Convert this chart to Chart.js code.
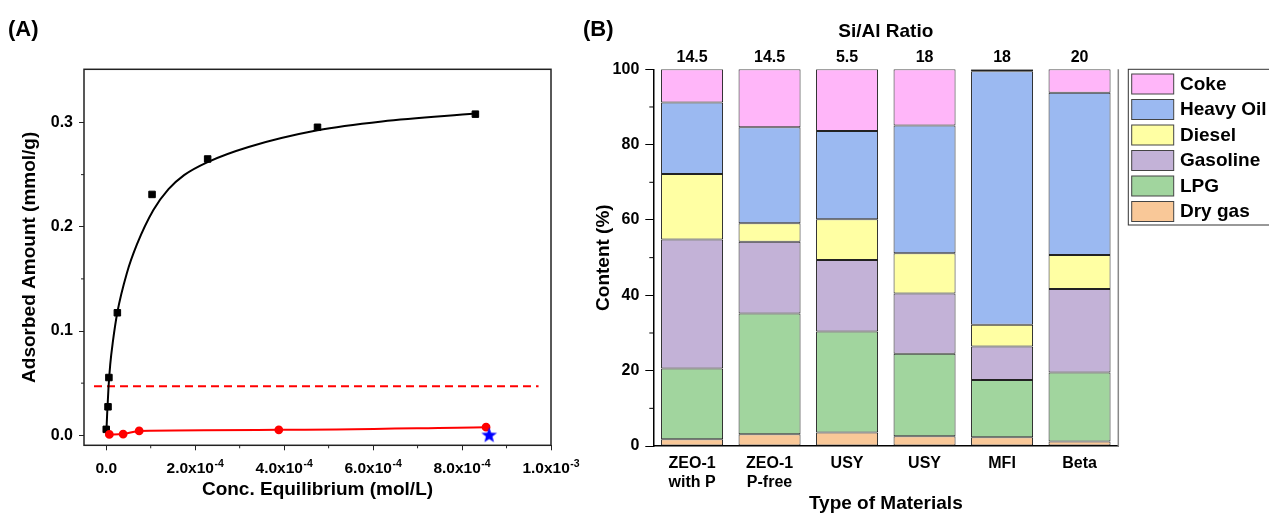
<!DOCTYPE html>
<html>
<head>
<meta charset="utf-8">
<script src="https://cdn.jsdelivr.net/npm/chart.js@4.4.1/dist/chart.umd.min.js"></script>
<style>
  html, body { margin: 0; padding: 0; width: 1269px; height: 513px; overflow: hidden; background: #fff; }
  .panel { position: absolute; top: 0; }
  #wrapA { left: 0; width: 600px; height: 513px; }
  #wrapB { left: 560px; width: 760px; height: 513px; }
  .tag { position: absolute; font: bold 22px "Liberation Sans", Arial, sans-serif; line-height: 1; color: #000; }
</style>
</head>
<body>
<div class="panel" id="wrapA"><canvas id="chartA" width="600" height="513"></canvas></div>
<div class="panel" id="wrapB"><canvas id="chartB" width="760" height="513"></canvas></div>
<div class="tag" style="left:8px; top:18px">(A)</div>
<div class="tag" style="left:583px; top:18px">(B)</div>
<script>
// ---- panel A: adsorption isotherm ----
const isothermX = [0, 4e-6, 6e-6, 2.5e-5, 1.03e-4, 2.28e-4, 4.75e-4, 8.3e-4];
const isothermY = [0.0057, 0.0273, 0.0554, 0.1175, 0.231, 0.265, 0.2954, 0.308];
// fitted curve
const fitX = [0, 2e-6, 5e-6, 9e-6, 1.5e-5, 2.5e-5, 4.6e-5, 6.9e-5, 1.06e-4, 1.4e-4, 1.75e-4, 2.28e-4, 3.2e-4, 4.75e-4, 6.2e-4, 8.3e-4];
const fitY = [0, 0.02, 0.045, 0.068, 0.09, 0.118, 0.155, 0.183, 0.216, 0.236, 0.2495, 0.262, 0.2765, 0.2925, 0.301, 0.3085];
const blankX = [7e-6, 3.8e-5, 7.4e-5, 3.88e-4, 8.54e-4];
const blankY = [0.0008, 0.0012, 0.0042, 0.0052, 0.0078];
const starX = [8.61e-4];
const starY = [0.0003];
const limitX = [-2.75e-5, 9.72e-4];
const limitY = [0.047, 0.047];
const xTickValsA = [0, 2e-4, 4e-4, 6e-4, 8e-4, 1e-3];
const xTickTextA = ['0.0', '2.0x10', '4.0x10', '6.0x10', '8.0x10', '1.0x10'];
const xTickExpA = ['', '-4', '-4', '-4', '-4', '-3'];
const xMinorA = [1e-4, 3e-4, 5e-4, 7e-4, 9e-4];
const yTickValsA = [0, 0.1, 0.2, 0.3];
const yMinorA = [0.05, 0.15, 0.25];

// ---- panel B: product distribution ----
const materials = [['ZEO-1', 'with P'], ['ZEO-1', 'P-free'], 'USY', 'USY', 'MFI', 'Beta'];
const siAlRatios = ['14.5', '14.5', '5.5', '18', '18', '20'];
const dryGas = [1.8, 3.1, 3.6, 2.6, 2.3, 1.2];
const lpg = [18.8, 32.1, 26.8, 21.9, 15.2, 18.3];
const gasoline = [34.2, 19.0, 19.0, 16.0, 8.9, 22.2];
const diesel = [17.4, 4.9, 10.8, 10.7, 5.8, 9.0];
const heavyOil = [19.0, 25.5, 23.4, 33.9, 67.3, 43.1];
const coke = [8.8, 15.4, 16.4, 14.9, 0.5, 6.2];
const yMinorB = [10, 30, 50, 70, 90];

const FONT = '"Liberation Sans", Arial, sans-serif';
Chart.defaults.font.family = FONT;
Chart.defaults.font.weight = 'bold';
Chart.defaults.color = '#000';

const pts = (xs, ys) => xs.map((x, i) => ({ x: x, y: ys[i] }));

// filled blue star marker
const starImg = document.createElement('canvas');
starImg.width = 17; starImg.height = 17;
(() => {
    const c = starImg.getContext('2d');
    c.beginPath();
    for (let k = 0; k < 10; k++) {
        const r = k % 2 ? 3.4 : 8.2;
        const ang = -Math.PI / 2 + k * Math.PI / 5;
        const px = 8.5 + r * Math.cos(ang), py = 9 + r * Math.sin(ang);
        k ? c.lineTo(px, py) : c.moveTo(px, py);
    }
    c.closePath();
    c.fillStyle = '#0000ff';
    c.fill();
})();

const seg = (ctx, x1, y1, x2, y2) => { ctx.beginPath(); ctx.moveTo(x1, y1); ctx.lineTo(x2, y2); ctx.stroke(); };

const plugA = {
    id: 'plugA',
    afterDraw(chart) {
        const { ctx, chartArea: a, scales } = chart;
        ctx.save();
        ctx.strokeStyle = '#222';
        ctx.lineWidth = 1.5;
        ctx.strokeRect(a.left, a.top, a.right - a.left, a.bottom - a.top);
        ctx.lineWidth = 1;
        xMinorA.forEach(v => { const p = scales.x.getPixelForValue(v); seg(ctx, p, a.bottom, p, a.bottom + 3); });
        yMinorA.forEach(v => { const p = scales.y.getPixelForValue(v); seg(ctx, a.left - 3, p, a.left, p); });
        // x tick labels with superscript exponent
        ctx.fillStyle = '#000';
        ctx.textAlign = 'left';
        ctx.textBaseline = 'alphabetic';
        const base = a.bottom + 27.4;
        xTickValsA.forEach((v, i) => {
            const px = scales.x.getPixelForValue(v);
            ctx.font = 'bold 15.5px ' + FONT;
            const w1 = ctx.measureText(xTickTextA[i]).width;
            ctx.font = 'bold 10.5px ' + FONT;
            const w2 = xTickExpA[i] ? ctx.measureText(xTickExpA[i]).width + 0.5 : 0;
            const x0 = px - (w1 + w2) / 2;
            ctx.font = 'bold 15.5px ' + FONT;
            ctx.fillText(xTickTextA[i], x0, base);
            if (xTickExpA[i]) {
                ctx.font = 'bold 10.5px ' + FONT;
                ctx.fillText(xTickExpA[i], x0 + w1 + 0.5, base - 6);
            }
        });
        ctx.restore();
    }
};

new Chart(document.getElementById('chartA'), {
    type: 'scatter',
    data: {
        datasets: [
            { label: 'Blank', data: pts(starX, starY), pointStyle: starImg, pointRadius: 7, showLine: false },
            { label: 'Red', data: pts(blankX, blankY), borderColor: '#ff0000', backgroundColor: '#ff0000', pointRadius: 3.4, borderWidth: 2, showLine: true, cubicInterpolationMode: 'monotone' },
            { label: 'Isotherm', data: pts(isothermX, isothermY), pointStyle: 'rect', pointRadius: 4.6, backgroundColor: '#000', borderColor: '#000', showLine: false },
            { label: 'Fit', data: pts(fitX, fitY), borderColor: '#000', borderWidth: 2, pointRadius: 0, showLine: true, cubicInterpolationMode: 'monotone' },
            { label: 'Limit', data: pts(limitX, limitY), borderColor: '#ff0000', borderWidth: 2, borderDash: [8, 5], pointRadius: 0, showLine: true }
        ]
    },
    options: {
        responsive: false,
        animation: false,
        layout: { padding: { top: 69.3, right: 49, bottom: 0, left: 0 } },
        plugins: { legend: { display: false }, tooltip: { enabled: false } },
        scales: {
            x: {
                type: 'linear', min: -5e-5, max: 1e-3,
                afterBuildTicks: s => { s.ticks = xTickValsA.map(v => ({ value: v })); },
                ticks: { display: false },
                grid: { drawOnChartArea: false, drawTicks: true, tickLength: 5, tickColor: '#222' },
                border: { display: false },
                title: { display: true, text: 'Conc. Equilibrium (mol/L)', font: { size: 19, weight: 'bold' }, padding: { top: 0, bottom: 11.6 } },
                afterFit: s => { s.height = 67.7; }
            },
            y: {
                type: 'linear', min: -0.0096, max: 0.351,
                afterBuildTicks: s => { s.ticks = yTickValsA.map(v => ({ value: v })); },
                ticks: { font: { size: 16, weight: 'bold' }, padding: 6, callback: v => v.toFixed(1) },
                grid: { drawOnChartArea: false, drawTicks: true, tickLength: 5, tickColor: '#222' },
                border: { display: false },
                title: { display: true, text: 'Adsorbed Amount (mmol/g)', font: { size: 19, weight: 'bold' }, padding: { top: 18.6, bottom: 0 } },
                afterFit: s => { s.width = 84; }
            }
        }
    },
    plugins: [plugA]
});

// ---- panel B ----
const plugB = {
    id: 'plugB',
    afterDraw(chart) {
        const { ctx, chartArea: a, scales } = chart;
        ctx.save();
        ctx.strokeStyle = '#888';
        ctx.lineWidth = 1.5;
        seg(ctx, a.right, a.top, a.right, a.bottom);
        ctx.strokeStyle = '#000';
        ctx.lineWidth = 1;
        yMinorB.forEach(v => { const p = scales.y.getPixelForValue(v); seg(ctx, a.left - 4, p, a.left, p); });
        // legend box
        const lx = a.right + 10, ly = a.top;
        ctx.strokeStyle = '#333';
        ctx.strokeRect(lx, ly, 200, 155.7);
        const ds = chart.data.datasets.slice().reverse();
        ctx.font = 'bold 19px ' + FONT;
        ctx.textAlign = 'left';
        ctx.textBaseline = 'middle';
        ds.forEach((d, i) => {
            const y = ly + 4.7 + i * 25.5;
            ctx.fillStyle = d.backgroundColor;
            ctx.fillRect(lx + 3.4, y, 42, 20);
            ctx.strokeStyle = '#444';
            ctx.strokeRect(lx + 3.4, y, 42, 20);
            ctx.fillStyle = '#000';
            ctx.fillText(d.label, lx + 51.7, y + 10.5);
        });
        ctx.restore();
    }
};

new Chart(document.getElementById('chartB'), {
    type: 'bar',
    data: {
        labels: materials,
        datasets: [
            { label: 'Dry gas', data: dryGas, backgroundColor: '#F9C898' },
            { label: 'LPG', data: lpg, backgroundColor: '#A1D59E' },
            { label: 'Gasoline', data: gasoline, backgroundColor: '#C3B2D7' },
            { label: 'Diesel', data: diesel, backgroundColor: '#FFFFA3' },
            { label: 'Heavy Oil', data: heavyOil, backgroundColor: '#9BB9F1' },
            { label: 'Coke', data: coke, backgroundColor: '#FFB6F9' }
        ]
    },
    options: {
        responsive: false,
        animation: false,
        datasets: { bar: { barPercentage: 0.8, categoryPercentage: 1, borderColor: '#222', borderWidth: 1, borderSkipped: false } },
        layout: { padding: { top: 0, right: 201.7, bottom: 0, left: 0 } },
        plugins: { legend: { display: false }, tooltip: { enabled: false } },
        scales: {
            x: {
                stacked: true, offset: true,
                ticks: { font: { size: 16, weight: 'bold' }, padding: 7.5, maxRotation: 0, autoSkip: false },
                grid: { display: false, drawTicks: false },
                border: { display: true, color: '#000', width: 1.5 },
                title: { display: true, text: 'Type of Materials', font: { size: 19, weight: 'bold', lineHeight: 1 }, padding: 0 },
                afterFit: s => { s.height = 67; }
            },
            xTop: {
                type: 'category', position: 'top', labels: siAlRatios, offset: true,
                ticks: { font: { size: 16, weight: 'bold' }, padding: 2, maxRotation: 0, autoSkip: false },
                grid: { display: false, drawTicks: false },
                border: { display: false },
                title: { display: true, text: 'Si/Al Ratio', font: { size: 19, weight: 'bold' }, padding: { top: 20.3, bottom: 0 } },
                afterFit: s => { s.height = 69.3; }
            },
            y: {
                stacked: true, min: 0, max: 100,
                ticks: { stepSize: 20, font: { size: 16, weight: 'bold' }, padding: 6 },
                grid: { drawOnChartArea: false, drawTicks: true, tickLength: 8, tickColor: '#000' },
                border: { display: true, color: '#000', width: 1.5 },
                title: { display: true, text: 'Content (%)', font: { size: 19, weight: 'bold' }, padding: { top: 32.6, bottom: 0 } },
                afterFit: s => { s.width = 93.3; }
            }
        }
    },
    plugins: [plugB]
});
</script>
</body>
</html>
